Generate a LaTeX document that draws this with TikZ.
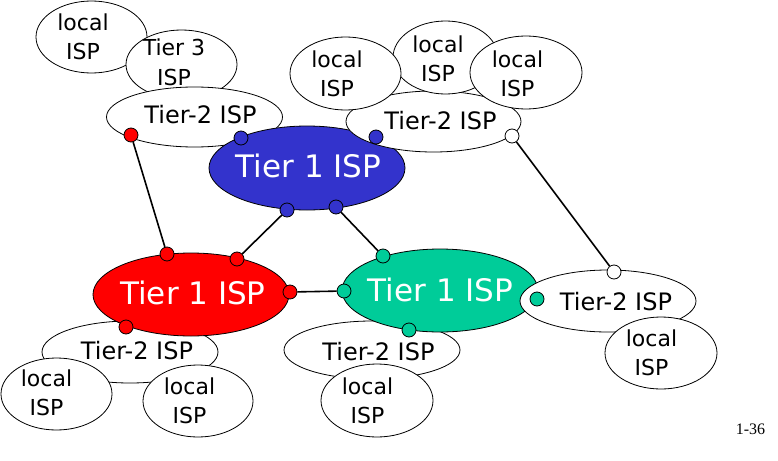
\documentclass[tikz,border=0pt]{standalone}
\usepackage{fontspec}
\setmainfont{DejaVu Sans}
\newfontfamily\slidefont{Liberation Serif}
\usetikzlibrary{shapes,positioning}
\definecolor{tierblue}{RGB}{51,51,204}
\definecolor{tierred}{RGB}{255,0,0}
\definecolor{tiergreen}{RGB}{0,204,153}

\begin{document}
\begin{tikzpicture}[x=1pt, y=-1pt]
    \tikzset{isp/.style={ellipse, draw, fill=white, inner sep=0pt, line width=0.8pt}}
    \tikzset{localisp/.style={isp, minimum width=112pt, minimum height=72pt}}
    \tikzset{tiertwo/.style={isp, minimum width=176pt, minimum height=61pt}}
    \tikzset{tierone/.style={isp, minimum width=196pt, minimum height=83pt}}
    \tikzset{ispname/.style={inner sep=0pt, align=center, font=\fontsize{22}{29}\selectfont}}
    \tikzset{midname/.style={inner sep=0pt, anchor=base, font=\fontsize{24}{29}\selectfont}}
    \tikzset{bigname/.style={inner sep=0pt, anchor=base, text=white, font=\fontsize{31}{37}\selectfont}}
    \tikzset{portdot/.style={circle, draw, line width=0.8pt, minimum size=14pt, inner sep=0pt}}
    \tikzset{peering/.style={line width=1.6pt}}

    \useasboundingbox (0,0) rectangle (778,460);

    % upper left: Tier 3 and its Tier-2
    \node[localisp, minimum width=111pt] (loc1) at (91.5,37) {};
    \node[localisp, minimum width=111pt, minimum height=69pt] (tier3) at (181.5,64.5) {};
    \node[tiertwo, minimum height=60pt] (tt1) at (194.5,117) {};
    % blue Tier 1
    \node[tierone, fill=tierblue, minimum height=84pt] (blue) at (307,168) {};
    % upper right Tier-2 and its locals
    \node[tiertwo, minimum width=175pt] (tt2) at (433.5,121.5) {};
    \node[localisp, minimum width=105pt, minimum height=73pt] (loc3) at (445.5,57.5) {};
    \node[localisp, minimum width=111pt, minimum height=73pt] (loc2) at (345.5,73.5) {};
    \node[localisp, minimum height=73pt] (loc4) at (526,72.5) {};

    % lower left: red Tier 1
    \node[tiertwo, minimum height=62pt] (tt3) at (130,352) {};
    \node[tierone, fill=tierred] (red) at (191,294.5) {};
    \node[localisp, minimum width=111pt] (loc5) at (56.5,394) {};
    \node[localisp, minimum width=110pt] (loc6) at (198,401) {};

    % lower middle: green Tier 1
    \node[tiertwo, minimum height=58pt] (tt4) at (372,350) {};
    \node[tierone, fill=tiergreen] (green) at (440,290.5) {};
    \node[localisp, minimum height=73pt] (loc7) at (377,400.5) {};

    % lower right Tier-2
    \node[tiertwo, minimum height=62pt] (tt5) at (608,301) {};
    \node[localisp] (loc8) at (661,353) {};

    % Names
    \node[ispname] (loc1txt) at (83,37.2) {local\\ISP};
    \node[ispname, font=\fontsize{22}{30}\selectfont] (tier3txt) at (174,62.2) {Tier 3\\ISP};
    \node[midname] (tt1txt) at (200.5,123) {Tier-2 ISP};
    \node[bigname] (bluetxt) at (308.5,177) {Tier 1 ISP};
    \node[ispname] (loc2txt) at (337,74.2) {local\\ISP};
    \node[ispname] (loc3txt) at (438,59.2) {local\\ISP};
    \node[ispname] (loc4txt) at (517.5,74.2) {local\\ISP};
    \node[midname] (tt2txt) at (440.5,129) {Tier-2 ISP};
    \node[bigname] (redtxt) at (193,304) {Tier 1 ISP};
    \node[midname] (tt3txt) at (137,359) {Tier-2 ISP};
    \node[ispname] (loc5txt) at (46.5,393.2) {local\\ISP};
    \node[ispname] (loc6txt) at (189.5,401.2) {local\\ISP};
    \node[bigname] (greentxt) at (440.5,301) {Tier 1 ISP};
    \node[midname] (tt4txt) at (378.5,360) {Tier-2 ISP};
    \node[ispname] (loc7txt) at (367.5,401.2) {local\\ISP};
    \node[midname] (tt5txt) at (616,310) {Tier-2 ISP};
    \node[ispname] (loc8txt) at (651.5,353.2) {local\\ISP};

    % Ports
    \node[portdot, fill=tierblue] (b1) at (241,138) {};
    \node[portdot, fill=tierblue] (b2) at (376,137) {};
    \node[portdot, fill=tierblue] (b3) at (287,210) {};
    \node[portdot, fill=tierblue] (b4) at (336,207) {};
    \node[portdot, fill=tierred] (r1) at (131,135) {};
    \node[portdot, fill=tierred] (r2) at (167,254) {};
    \node[portdot, fill=tierred] (r3) at (237,259) {};
    \node[portdot, fill=tierred] (r4) at (290,292) {};
    \node[portdot, fill=tierred] (r5) at (126,327) {};
    \node[portdot, fill=tiergreen] (g1) at (383,256) {};
    \node[portdot, fill=tiergreen] (g2) at (344,291) {};
    \node[portdot, fill=tiergreen] (g3) at (409,330) {};
    \node[portdot, fill=tiergreen] (g4) at (537,299) {};
    \node[portdot, fill=white] (w1) at (512,136) {};
    \node[portdot, fill=white] (w2) at (614,272) {};

    % Links
    \draw[peering] (r1) -- (r2);
    \draw[peering] (b3) -- (r3);
    \draw[peering] (b4) -- (g1);
    \draw[peering] (r4) -- (g2);
    \draw[peering] (w1) -- (w2);

    \node[anchor=base, inner sep=0pt, font=\slidefont\fontsize{16}{19}\selectfont] (slideno) at (750.5,434) {1-36};
\end{tikzpicture}
\end{document}
